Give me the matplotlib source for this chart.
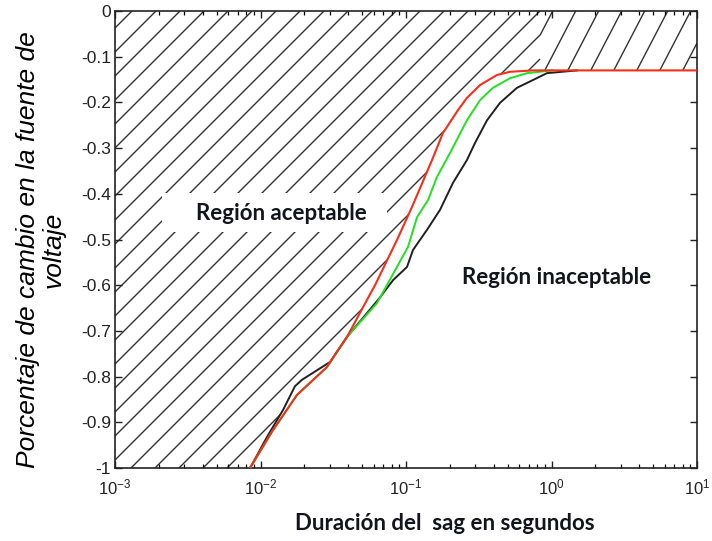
import numpy as np
import matplotlib
matplotlib.use("Agg")
import matplotlib.pyplot as plt
from matplotlib.collections import LineCollection
from matplotlib.patches import Polygon, Rectangle

plt.rcParams['font.family'] = ['Liberation Sans', 'DejaVu Sans']
plt.rcParams['mathtext.fontset'] = 'custom'
plt.rcParams['mathtext.rm'] = 'Liberation Sans'
plt.rcParams['mathtext.it'] = 'Liberation Sans:italic'

# ---- data (log10 of duration in s, voltage change) ----
red_logx = [-2.072, -1.92, -1.749, -1.543, -1.467, -1.405, -1.268, -1.213, -1.062,
            -0.959, -0.821, -0.746, -0.643, -0.581, -0.491, -0.375, -0.285, -0.127, 1.0]
red_y = [-1.0, -0.92, -0.840, -0.779, -0.742, -0.713, -0.632, -0.600, -0.501,
         -0.429, -0.326, -0.267, -0.217, -0.190, -0.162, -0.140, -0.133, -0.130, -0.130]

green_logx = [-2.072, -1.92, -1.749, -1.543, -1.405, -1.199, -1.062, -0.986, -0.924,
              -0.849, -0.787, -0.698, -0.581, -0.491, -0.402, -0.285, -0.168, 0.003]
green_y = [-1.0, -0.92, -0.840, -0.779, -0.713, -0.639, -0.560, -0.516, -0.451,
           -0.414, -0.363, -0.311, -0.239, -0.195, -0.168, -0.147, -0.136, -0.130]

black_logx = [-2.072, -1.955, -1.845, -1.763, -1.715, -1.522, -1.405, -1.192, -1.089,
              -0.993, -0.952, -0.856, -0.766, -0.677, -0.581, -0.526, -0.443, -0.354,
              -0.237, -0.127, -0.031, 0.175]
black_y = [-1.0, -0.932, -0.873, -0.821, -0.807, -0.768, -0.713, -0.632, -0.589,
           -0.560, -0.523, -0.479, -0.435, -0.376, -0.326, -0.289, -0.239, -0.201,
           -0.168, -0.151, -0.136, -0.130]

y_ticks = [0, -0.1, -0.2, -0.3, -0.4, -0.5, -0.6, -0.7, -0.8, -0.9, -1]
y_tick_labels = ['0', '-0.1', '-0.2', '-0.3', '-0.4', '-0.5', '-0.6', '-0.7', '-0.8', '-0.9', '-1']
x_ticks = [1e-3, 1e-2, 1e-1, 1e0, 1e1]
x_tick_labels = ['$10^{-3}$', '$10^{-2}$', '$10^{-1}$', '$10^{0}$', '$10^{1}$']

red_x = 10 ** np.array(red_logx)
green_x = 10 ** np.array(green_logx)
black_x = 10 ** np.array(black_logx)

W, H = 712, 541
fig = plt.figure(figsize=(W / 100, H / 100), dpi=100)
ax_l, ax_r, ax_t, ax_b = 115, 697, 11, 468
axw, axh = ax_r - ax_l, ax_b - ax_t
ax = fig.add_axes([ax_l / W, (H - ax_b) / H, axw / W, axh / H])
ax.set_xscale('log')
ax.set_xlim(1e-3, 1e1)
ax.set_ylim(-1, 0)

# ---- hatched "acceptable" region boundary ----
bx = list(black_x[:7]) + list(red_x[6:])
by = list(black_y[:7]) + list(red_y[6:])
verts = list(zip(bx, by)) + [(1e1, 0), (1e-3, 0), (1e-3, -1)]
poly = Polygon(verts, closed=True, facecolor='none', edgecolor='none', transform=ax.transData)
ax.add_patch(poly)

segs = []
split = 540 - ax_l  # px in axes
for k in range(-30, 60):
    c = -440 + 24 * k
    x0 = max(0, c)
    x1 = min(split, c + axh)
    if x1 > x0:
        segs.append([(x0 / axw, (x0 - c) / axh), (x1 / axw, (x1 - c) / axh)])
s = 0.52
for k in range(-20, 20):
    xb = 453 + 23 * k
    ylo = max(0, 398 + (split - xb) / s)
    yhi = min(axh, 398 + (axw - xb) / s)
    if yhi > ylo:
        segs.append([((xb + s * (ylo - 398)) / axw, ylo / axh),
                     ((xb + s * (yhi - 398)) / axw, yhi / axh)])
lc = LineCollection(segs, colors='#333333', linewidths=1.0, transform=ax.transAxes, zorder=1)
ax.add_collection(lc)
lc.set_clip_path(poly)

ax.add_patch(Rectangle(((162 - ax_l) / axw, (ax_b - 232) / axh), 225 / axw, 39 / axh,
                       transform=ax.transAxes, facecolor='white', edgecolor='none', zorder=2))

# ---- curves ----
ax.plot(black_x, black_y, color='#202020', lw=1.4, zorder=3)
ax.plot(green_x, green_y, color='#22e022', lw=1.4, zorder=4)
ax.plot(red_x, red_y, color='#f2301c', lw=1.5, zorder=5)

# ---- texts ----
tfont = dict(family=['Lato', 'DejaVu Sans'], fontweight='bold', fontsize=16, color='#14141e')
ax.text((281 - ax_l) / axw, (ax_b - 214) / axh, 'Región aceptable', transform=ax.transAxes,
        ha='center', va='center', zorder=6, **tfont)
ax.text((557 - ax_l) / axw, (ax_b - 277) / axh, 'Región inaceptable', transform=ax.transAxes,
        ha='center', va='center', zorder=6, **tfont)

fig.text(445 / W, 1 - 524 / H, 'Duración del  sag en segundos', ha='center', va='center',
         family=['Lato', 'DejaVu Sans'], fontweight='bold', fontsize=16, color='#14141e')
fig.text(41 / W, 1 - 250 / H, 'Porcentaje de cambio en la fuente de\nvoltaje', ha='center',
         va='center', rotation=90, fontsize=19, style='italic', linespacing=1.1,
         family=['Liberation Sans', 'DejaVu Sans'])

# ---- ticks ----
ax.set_yticks(y_ticks)
ax.set_yticklabels(y_tick_labels)
ax.set_xticks(x_ticks)
ax.set_xticklabels(x_tick_labels)
ax.tick_params(axis='both', which='major', direction='in', length=5, width=1,
               top=True, right=True, colors='#222222')
ax.tick_params(axis='y', which='major', labelsize=12.5, pad=3)
ax.tick_params(axis='x', which='major', labelsize=12, pad=7)
ax.tick_params(axis='x', which='minor', direction='in', length=3, width=0.9, top=True)
for sp in ax.spines.values():
    sp.set_linewidth(1.2)
    sp.set_color('#222222')

fig.savefig('out.png', dpi=100)
